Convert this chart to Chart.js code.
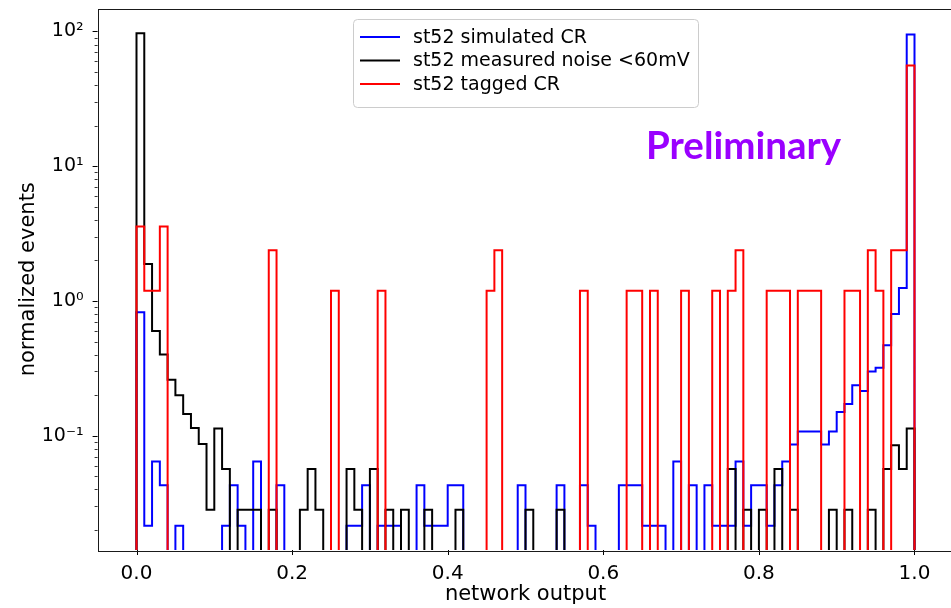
<!DOCTYPE html>
<html>
<head>
<meta charset="utf-8">
<script src="https://cdn.jsdelivr.net/npm/chart.js@4/dist/chart.umd.min.js"></script>
<style>
  html, body { margin: 0; padding: 0; background: #ffffff; overflow: hidden; }
  #wrap { position: relative; width: 958px; height: 608px; }
  #c { position: absolute; left: 0; top: 0; }
  #prelim {
    position: absolute; left: 646px; top: 121px;
    font-family: Lato, "Open Sans", sans-serif; font-weight: 700;
    font-size: 38.5px; line-height: 46px; color: #9a00ff; white-space: nowrap;
  }
</style>
</head>
<body>
<div id="wrap">
  <canvas id="c" width="958" height="608"></canvas>
  <div id="prelim">Preliminary</div>
</div>
<script>
// histogram binning of the network output
const binRange = [0, 1];
const binCount = 100;

// normalized counts per bin (0 = empty bin)
const simulatedCR = [
  0.826, 0.0215, 0.0645, 0.043, 0, 0.0215, 0, 0, 0, 0,
  0, 0.0215, 0.043, 0.0215, 0, 0.0645, 0, 0, 0.043, 0,
  0, 0, 0, 0, 0, 0, 0, 0.0215, 0.0215, 0.043,
  0, 0.0215, 0.0215, 0.0215, 0, 0, 0.043, 0.0215, 0.0215, 0.0215,
  0.043, 0.043, 0, 0, 0, 0, 0, 0, 0, 0.043,
  0, 0, 0, 0, 0.043, 0, 0, 0.043, 0.0215, 0,
  0, 0, 0.043, 0.043, 0.043, 0.0215, 0.0215, 0.0215, 0, 0.0645,
  0, 0.043, 0, 0.043, 0.0215, 0.0215, 0.0215, 0.0645, 0.0215, 0.043,
  0.043, 0.0215, 0.043, 0.0645, 0.086, 0.1075, 0.1075, 0.1075, 0.086, 0.1075,
  0.15, 0.172, 0.237, 0.215, 0.30, 0.32, 0.47, 0.80, 1.25, 95
];
const measuredNoise = [
  97, 1.88, 0.60, 0.40, 0.26, 0.20, 0.145, 0.114, 0.0867, 0.0283,
  0.113, 0.0566, 0, 0.0283, 0.0283, 0.0283, 0, 0.0283, 0, 0,
  0, 0.0283, 0.0566, 0.0283, 0, 0, 0, 0.0566, 0.0283, 0,
  0.0566, 0, 0.0283, 0, 0.0283, 0, 0, 0.0283, 0, 0,
  0, 0.0283, 0, 0, 0, 0, 0, 0, 0, 0,
  0.0283, 0, 0, 0, 0.0283, 0, 0, 0, 0, 0,
  0, 0, 0, 0, 0, 0, 0, 0, 0, 0,
  0, 0, 0, 0, 0, 0, 0.0566, 0, 0.0283, 0,
  0.0283, 0, 0.0566, 0, 0.0283, 0, 0, 0, 0, 0.0283,
  0, 0.0283, 0, 0, 0.0283, 0, 0.0566, 0.085, 0.0566, 0.113
];
const taggedCR = [
  3.57, 1.19, 1.19, 3.57, 0, 0, 0, 0, 0, 0,
  0, 0, 0, 0, 0, 0, 0, 2.38, 0, 0,
  0, 0, 0, 0, 0, 1.19, 0, 0, 0, 0,
  0, 1.19, 0, 0, 0, 0, 0, 0, 0, 0,
  0, 0, 0, 0, 0, 1.19, 2.38, 0, 0, 0,
  0, 0, 0, 0, 0, 0, 0, 1.19, 0, 0,
  0, 0, 0, 1.19, 1.19, 0, 1.19, 0, 0, 0,
  1.19, 0, 0, 0, 1.19, 0, 1.19, 2.38, 0, 0,
  0, 1.19, 1.19, 1.19, 0, 1.19, 1.19, 1.19, 0, 0,
  0, 1.19, 1.19, 0, 2.38, 1.19, 0, 2.38, 2.38, 56
];

const seriesLabels = ['st52 simulated CR', 'st52 measured noise <60mV', 'st52 tagged CR'];
const seriesColors = ['#0000ff', '#000000', '#ff0000'];

const xLimits = [-0.05, 1.05];
const xTickValues = [0, 0.2, 0.4, 0.6, 0.8, 1.0];
const xTickLabels = ['0.0', '0.2', '0.4', '0.6', '0.8', '1.0'];
const yLimits = [0.0142, 148];
const yTickValues = [0.1, 1, 10, 100];
const yTickLabels = ['10\u207B\u00B9', '10\u2070', '10\u00B9', '10\u00B2'];

const xTitle = 'network output';
const yTitle = 'normalized events';

// empty bins are sent far below the visible range so their outline is clipped away
const EMPTY = 1e-4;
const binWidth = (binRange[1] - binRange[0]) / binCount;

function stepOutline(counts) {
  const pts = [{ x: binRange[0], y: EMPTY }];
  counts.forEach((c, i) => pts.push({ x: binRange[0] + i * binWidth, y: c > 0 ? c : EMPTY }));
  const last = counts[counts.length - 1];
  pts.push({ x: binRange[1], y: last > 0 ? last : EMPTY });
  pts.push({ x: binRange[1], y: EMPTY });
  return pts;
}

const FONT = '"DejaVu Sans", Verdana, sans-serif';

// frame, tick marks (major + minor on the log axis) and the boxed legend
const axisDecor = {
  id: 'axisDecor',
  afterDraw(chart) {
    const ctx = chart.ctx;
    const a = chart.chartArea;
    const xs = chart.scales.x, ys = chart.scales.y;
    ctx.save();
    ctx.strokeStyle = '#000000';
    ctx.lineWidth = 1;
    // x ticks
    ctx.beginPath();
    xTickValues.forEach(v => {
      const px = Math.round(xs.getPixelForValue(v)) + 0.5;
      ctx.moveTo(px, a.bottom); ctx.lineTo(px, a.bottom + 5);
    });
    // y major ticks
    yTickValues.forEach(v => {
      const py = Math.round(ys.getPixelForValue(v)) + 0.5;
      ctx.moveTo(a.left, py); ctx.lineTo(a.left - 5, py);
    });
    ctx.stroke();
    // y minor ticks
    ctx.beginPath();
    ctx.lineWidth = 0.8;
    for (let d = -2; d <= 2; d++) {
      for (let m = 2; m <= 9; m++) {
        const v = m * Math.pow(10, d);
        if (v < yLimits[0] || v > yLimits[1]) continue;
        const py = Math.round(ys.getPixelForValue(v)) + 0.5;
        ctx.moveTo(a.left, py); ctx.lineTo(a.left - 3, py);
      }
    }
    ctx.stroke();
    // frame
    ctx.lineWidth = 1;
    ctx.strokeStyle = '#1a1a1a';
    ctx.strokeRect(Math.round(a.left) + 0.5, Math.round(a.top) + 0.5,
                   Math.round(a.right - a.left), Math.round(a.bottom - a.top));

    // legend
    const bx = 353.5, by = 19.5, bw = 345, bh = 88, r = 4;
    ctx.beginPath();
    ctx.moveTo(bx + r, by);
    ctx.lineTo(bx + bw - r, by); ctx.quadraticCurveTo(bx + bw, by, bx + bw, by + r);
    ctx.lineTo(bx + bw, by + bh - r); ctx.quadraticCurveTo(bx + bw, by + bh, bx + bw - r, by + bh);
    ctx.lineTo(bx + r, by + bh); ctx.quadraticCurveTo(bx, by + bh, bx, by + bh - r);
    ctx.lineTo(bx, by + r); ctx.quadraticCurveTo(bx, by, bx + r, by);
    ctx.closePath();
    ctx.fillStyle = 'rgba(255,255,255,0.8)';
    ctx.fill();
    ctx.strokeStyle = '#cccccc';
    ctx.stroke();
    ctx.font = '19px ' + FONT;
    ctx.textBaseline = 'middle';
    ctx.textAlign = 'left';
    chart.data.datasets.forEach((ds, i) => {
      const ry = 37 + i * 23.5;
      ctx.beginPath();
      ctx.strokeStyle = ds.borderColor;
      ctx.lineWidth = 2;
      ctx.moveTo(360, ry); ctx.lineTo(400, ry);
      ctx.stroke();
      ctx.fillStyle = '#000000';
      ctx.fillText(ds.label, 413, ry + 1);
    });
    ctx.restore();
  }
};

const datasets = [simulatedCR, measuredNoise, taggedCR].map((counts, i) => ({
  label: seriesLabels[i],
  data: stepOutline(counts),
  borderColor: seriesColors[i],
  backgroundColor: seriesColors[i],
  borderWidth: 2,
  pointRadius: 0,
  fill: false,
  stepped: 'before',
  tension: 0,
  order: 2 - i
}));

new Chart(document.getElementById('c'), {
  type: 'line',
  data: { datasets },
  plugins: [axisDecor],
  options: {
    responsive: false,
    animation: false,
    devicePixelRatio: 1,
    layout: { padding: { left: 0, top: 8.5, right: 4.6, bottom: 0 } },
    plugins: { legend: { display: false }, tooltip: { enabled: false } },
    scales: {
      x: {
        type: 'linear',
        min: xLimits[0], max: xLimits[1],
        grid: { display: false },
        border: { display: false },
        afterFit: s => { s.height = 58; s.paddingLeft = 0; s.paddingRight = 0; },
        afterBuildTicks: s => { s.ticks = xTickValues.map(v => ({ value: v })); },
        ticks: {
          autoSkip: false, maxRotation: 0, padding: 4,
          color: '#000000', font: { family: FONT, size: 20 },
          callback: (v, i) => xTickLabels[i]
        },
        title: {
          display: true, text: xTitle, color: '#000000',
          font: { family: FONT, size: 21 }, padding: { top: 0, bottom: 0.5 }
        }
      },
      y: {
        type: 'logarithmic',
        min: yLimits[0], max: yLimits[1],
        grid: { display: false },
        border: { display: false },
        afterFit: s => { s.width = 97.6; s.paddingTop = 0; s.paddingBottom = 0; },
        afterBuildTicks: s => { s.ticks = yTickValues.map(v => ({ value: v })); },
        ticks: {
          autoSkip: false, padding: 6,
          color: '#000000', font: { family: FONT, size: 19 },
          callback: (v, i) => yTickLabels[i]
        },
        title: {
          display: true, text: yTitle, color: '#000000',
          font: { family: FONT, size: 21 }, padding: { top: 16, bottom: 0 }
        }
      }
    }
  }
});
</script>
</body>
</html>
